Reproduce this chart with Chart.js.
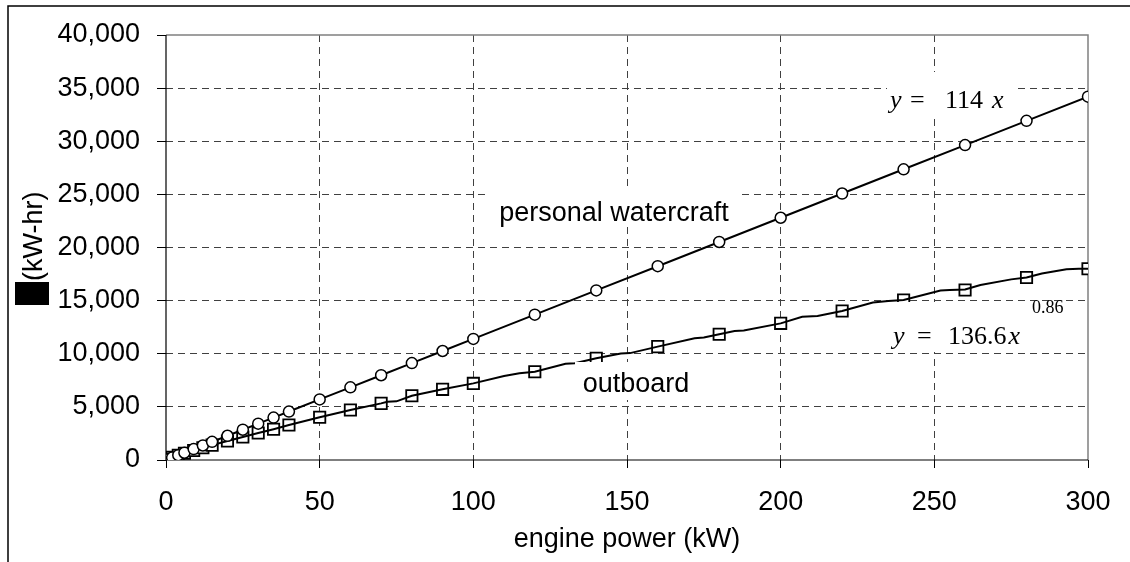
<!DOCTYPE html>
<html><head><meta charset="utf-8">
<script src="https://cdn.jsdelivr.net/npm/chart.js@4.4.0/dist/chart.umd.min.js"></script>
<style>html,body{margin:0;padding:0;background:#fff}#wrap{width:1130px;height:562px;position:relative}</style>
</head><body><div id="wrap"><canvas id="c" width="1130" height="562"></canvas></div>
<script>
// ---- data ----
const xTickValues = [0, 50, 100, 150, 200, 250, 300];
const yTickValues = [0, 5000, 10000, 15000, 20000, 25000, 30000, 35000, 40000];

const pwcPower  = [1, 2, 4, 6, 9, 12, 15, 20, 25, 30, 35, 40, 50, 60, 70, 80, 90, 100, 120, 140, 160, 180, 200, 220, 240, 260, 280, 300];
const pwcEnergy = [114, 228, 456, 684, 1026, 1368, 1710, 2280, 2850, 3420, 3990, 4560, 5700, 6840, 7980, 9120, 10260, 11400, 13680, 15960, 18240, 20520, 22800, 25080, 27360, 29640, 31920, 34200];

const obPower  = [1, 2, 4, 6, 9, 12, 15, 20, 25, 30, 35, 40, 50, 60, 70, 80, 90, 100, 120, 140, 160, 180, 200, 220, 240, 260, 280, 300];
const obEnergy = [140, 250, 450, 640, 900, 1150, 1400, 1790, 2160, 2540, 2900, 3290, 4020, 4710, 5330, 6050, 6650, 7210, 8310, 9570, 10670, 11830, 12860, 14020, 15060, 16000, 17180, 18000];

const obLinePower  = [1, 2, 4, 6, 9, 12, 15, 20, 25, 30, 35, 40, 50, 60, 70, 72, 75, 80, 90, 100, 110, 115, 120, 130, 133, 140, 148, 151, 160, 172, 175, 180, 185, 188, 200, 207, 212, 220, 230, 235, 240, 252, 255, 260, 265, 275, 280, 285, 293, 297, 300];
const obLineEnergy = [140, 250, 450, 640, 900, 1150, 1400, 1790, 2160, 2540, 2900, 3290, 4020, 4710, 5330, 5480, 5520, 6050, 6650, 7210, 7900, 8170, 8310, 9050, 9110, 9570, 10020, 10060, 10670, 11450, 11520, 11830, 12130, 12180, 12860, 13480, 13550, 14020, 14830, 14960, 15060, 15950, 15990, 16050, 16470, 17000, 17180, 17560, 17950, 17990, 18000];

const xTitle = 'engine power (kW)';
const yTitle = '(kW-hr)';
const pwcLabel = 'personal watercraft';
const obLabel = 'outboard';

// ---- helpers ----
const pts = (xs, ys) => xs.map((x, i) => ({x, y: ys[i]}));
const SANS = '"Liberation Sans", Arial, sans-serif';
const SERIF = '"Liberation Serif", "Times New Roman", serif';
const GRID = '#404040';
const CLEAR = 'rgba(0,0,0,0)';

const decor = {
  id: 'decor',
  beforeDraw(chart) {
    const ctx = chart.ctx;
    ctx.save();
    ctx.fillStyle = '#fff';
    ctx.fillRect(0, 0, chart.width, chart.height);
    ctx.strokeStyle = '#000';
    ctx.lineWidth = 1.5;
    ctx.beginPath();
    ctx.moveTo(8, chart.height);
    ctx.lineTo(8, 6);
    ctx.lineTo(chart.width, 6);
    ctx.stroke();
    // y-axis title with black box
    ctx.fillStyle = '#000';
    ctx.fillRect(15, 282, 34, 23);
    ctx.translate(42, 281);
    ctx.rotate(-Math.PI / 2);
    ctx.font = '27px ' + SANS;
    ctx.textAlign = 'left';
    ctx.textBaseline = 'alphabetic';
    ctx.fillText(yTitle, 0, 0);
    ctx.restore();
  },
  beforeDatasetsDraw(chart) {
    const {ctx, chartArea: a} = chart;
    ctx.save();
    ctx.strokeStyle = '#808080';
    ctx.lineWidth = 1.5;
    ctx.beginPath();
    ctx.moveTo(a.left, a.top);
    ctx.lineTo(a.right, a.top);
    ctx.lineTo(a.right, a.bottom);
    ctx.stroke();
    ctx.strokeStyle = '#000';
    ctx.lineWidth = 1.2;
    ctx.beginPath();
    ctx.moveTo(a.left, a.top);
    ctx.lineTo(a.left, a.bottom);
    ctx.lineTo(a.right, a.bottom);
    ctx.stroke();
    ctx.restore();
  },
  afterDatasetsDraw(chart) {
    const ctx = chart.ctx;
    ctx.save();
    ctx.fillStyle = '#fff';
    ctx.fillRect(490, 190, 250, 37);
    ctx.fillRect(575, 362, 125, 38);
    ctx.fillRect(887, 72, 131, 46);
    ctx.fillRect(893, 302, 182, 50);
    ctx.fillStyle = '#000';
    ctx.textBaseline = 'alphabetic';
    ctx.textAlign = 'center';
    ctx.font = '27px ' + SANS;
    ctx.fillText(pwcLabel, 614, 221);
    ctx.fillText(obLabel, 636, 392);
    ctx.textAlign = 'left';
    // y = 114 x
    ctx.font = 'italic 26px ' + SERIF;
    ctx.fillText('y', 890, 108);
    ctx.font = '26px ' + SERIF;
    ctx.fillText('=', 910, 108);
    ctx.fillText('114', 945, 108);
    ctx.font = 'italic 26px ' + SERIF;
    ctx.fillText('x', 992, 108);
    // y = 136.6x^0.86
    ctx.font = 'italic 26px ' + SERIF;
    ctx.fillText('y', 893, 344);
    ctx.font = '26px ' + SERIF;
    ctx.fillText('=', 917, 344);
    ctx.fillText('136.6', 948, 344);
    const w = ctx.measureText('136.6').width;
    ctx.font = 'italic 26px ' + SERIF;
    ctx.fillText('x', 948 + w + 2, 344);
    ctx.font = '18px ' + SERIF;
    ctx.fillText('0.86', 1032, 313);
    ctx.restore();
  }
};

new Chart(document.getElementById('c'), {
  type: 'scatter',
  data: {
    datasets: [
      {
        label: 'personal watercraft',
        data: pts(pwcPower, pwcEnergy),
        showLine: true,
        borderColor: '#000',
        borderWidth: 2,
        backgroundColor: '#fff',
        pointStyle: 'circle',
        pointRadius: 5.5,
        pointBorderWidth: 1.5,
        pointBorderColor: '#000',
        pointBackgroundColor: '#fff',
        tension: 0
      },
      {
        label: 'outboard line',
        data: pts(obLinePower, obLineEnergy),
        showLine: true,
        borderColor: '#000',
        borderWidth: 2,
        pointRadius: 0,
        tension: 0
      },
      {
        label: 'outboard',
        data: pts(obPower, obEnergy),
        showLine: false,
        pointStyle: 'rect',
        pointRadius: 8,
        pointBorderWidth: 1.8,
        pointBorderColor: '#000',
        pointBackgroundColor: '#fff'
      }
    ]
  },
  options: {
    responsive: false,
    devicePixelRatio: 1,
    animation: false,
    layout: {padding: {left: 0, top: 35, right: 42, bottom: 0}},
    plugins: {legend: {display: false}, tooltip: {enabled: false}},
    scales: {
      x: {
        type: 'linear', min: 0, max: 300,
        afterBuildTicks: s => { s.ticks = xTickValues.map(v => ({value: v})); },
        afterFit: s => { s.height = 102; },
        grid: {color: c => (c.tick && (c.tick.value === 0 || c.tick.value === 300)) ? CLEAR : GRID,
               lineWidth: 1, tickLength: 8, tickColor: '#000', tickWidth: 1},
        border: {display: false, dash: [7, 5]},
        ticks: {color: '#000', font: {family: SANS, size: 27}, padding: 18, maxRotation: 0},
        title: {display: true, text: xTitle, color: '#000', font: {family: SANS, size: 27}, padding: {top: 0, bottom: 6}}
      },
      y: {
        type: 'linear', min: 0, max: 40000,
        afterBuildTicks: s => { s.ticks = yTickValues.map(v => ({value: v})); },
        afterFit: s => { s.width = 166; },
        grid: {color: c => (c.tick && (c.tick.value === 0 || c.tick.value === 40000)) ? CLEAR : GRID,
               lineWidth: 1, tickLength: 9, tickColor: '#000', tickWidth: 1},
        border: {display: false, dash: [7, 5]},
        ticks: {color: '#000', font: {family: SANS, size: 27}, padding: 17,
          callback: v => v.toLocaleString('en-US')}
      }
    }
  },
  plugins: [decor]
});
</script>
</body></html>
